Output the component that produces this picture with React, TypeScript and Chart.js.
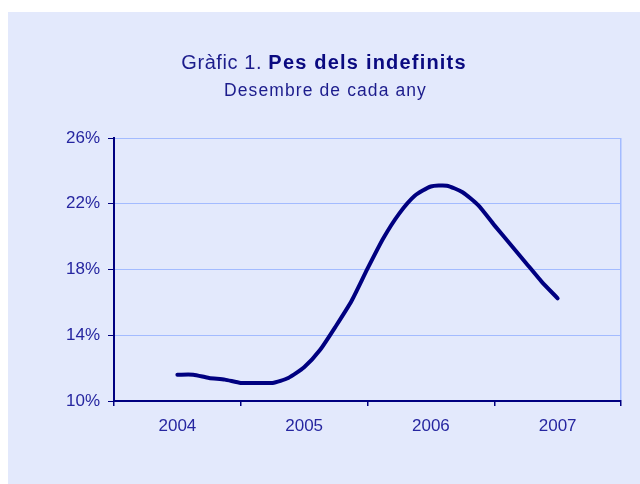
import React, { useEffect, useRef } from 'react';
import { Chart, registerables } from 'chart.js';

Chart.register(...registerables);

const years = ['2004', '2005', '2006', '2007'];
const yTicks = [10, 14, 18, 22, 26];
const pesIndefinits = [
  11.6, 11.6, 11.4, 11.3, 11.1, 11.1, 11.1, 11.4, 12.05, 13.1, 14.55, 16.1,
  18.05, 19.9, 21.4, 22.5, 23.05, 23.1, 22.7, 21.9, 20.7, 19.55, 18.4, 17.25, 16.25,
];
const pointsPerYear = 8;
const titleNormal = 'Gràfic 1. ';
const titleBold = 'Pes dels indefinits';
const subtitle = 'Desembre de cada any';

const FONT = '"Liberation Sans", Arial, Helvetica, sans-serif';
const DARK = '#000080';
const TEXT = '#2626a0';
const LIGHT = '#a3bbff';
const BG = '#e3e9fc';

const titlePlugin = {
  id: 'mixedTitle',
  afterDraw(chart: any) {
    const ctx = chart.ctx as CanvasRenderingContext2D & { letterSpacing?: string };
    ctx.save();
    ctx.textBaseline = 'alphabetic';
    ctx.textAlign = 'left';
    ctx.font = `20px ${FONT}`;
    ctx.letterSpacing = '0.6px';
    const w1 = ctx.measureText(titleNormal).width;
    ctx.font = `bold 20px ${FONT}`;
    ctx.letterSpacing = '1.2px';
    const w2 = ctx.measureText(titleBold).width;
    const cx = chart.width / 2;
    const x0 = cx - (w1 + w2) / 2;
    ctx.font = `20px ${FONT}`;
    ctx.letterSpacing = '0.6px';
    ctx.fillStyle = '#1c1c8c';
    ctx.fillText(titleNormal, x0, 57);
    ctx.font = `bold 20px ${FONT}`;
    ctx.letterSpacing = '1.2px';
    ctx.fillStyle = '#0a0a80';
    ctx.fillText(titleBold, x0 + w1, 57);
    ctx.font = `17.5px ${FONT}`;
    ctx.letterSpacing = '1.1px';
    ctx.fillStyle = '#1c1c8c';
    const w3 = ctx.measureText(subtitle).width;
    ctx.fillText(subtitle, cx + 1.5 - w3 / 2, 84);
    ctx.restore();
  },
};

export default function App() {
  const ref = useRef<HTMLCanvasElement>(null);

  useEffect(() => {
    if (!ref.current) return;
    const data = pesIndefinits.map((v, i) => ({ x: 0.5 + i / pointsPerYear, y: v }));
    const chart = new Chart(ref.current, {
      type: 'line',
      data: {
        datasets: [
          {
            data,
            borderColor: DARK,
            borderWidth: 4,
            pointRadius: 0,
            tension: 0.2,
            borderCapStyle: 'round',
            borderJoinStyle: 'round',
            fill: false,
          },
        ],
      },
      options: {
        animation: false,
        responsive: true,
        maintainAspectRatio: false,
        layout: { padding: { top: 126, right: 19, left: 0, bottom: 0 } },
        plugins: {
          legend: { display: false },
          title: { display: false },
          tooltip: { enabled: false },
        },
        scales: {
          x: {
            type: 'linear',
            min: 0,
            max: years.length,
            afterBuildTicks: (s: any) => {
              const t = [];
              for (let v = 0; v <= years.length; v += 0.5) t.push({ value: v });
              s.ticks = t;
            },
            afterFit: (s: any) => {
              s.height = 83;
            },
            grid: {
              drawOnChartArea: true,
              color: (c: any) => (c.tick && c.tick.value === years.length ? LIGHT : 'rgba(0,0,0,0)'),
              tickColor: (c: any) => (c.tick && Number.isInteger(c.tick.value) ? DARK : 'rgba(0,0,0,0)'),
              tickLength: 5,
              lineWidth: (c: any) => (c.tick && Number.isInteger(c.tick.value) ? 1.5 : 0),
            },
            border: { color: DARK, width: 2 },
            ticks: {
              autoSkip: false,
              maxRotation: 0,
              padding: 10,
              color: TEXT,
              font: { family: FONT, size: 17 },
              callback: (v: any) => (Number.isInteger(v) ? '' : years[Math.floor(v)]),
            },
          },
          y: {
            min: yTicks[0],
            max: yTicks[yTicks.length - 1],
            afterBuildTicks: (s: any) => {
              s.ticks = yTicks.map((v) => ({ value: v }));
            },
            afterFit: (s: any) => {
              s.width = 106;
            },
            grid: {
              color: LIGHT,
              tickColor: DARK,
              tickLength: 6,
              lineWidth: 1,
            },
            border: { color: DARK, width: 2 },
            ticks: {
              padding: 8,
              color: TEXT,
              font: { family: FONT, size: 17 },
              callback: (v: any) => `${v}%`,
            },
          },
        },
      },
      plugins: [titlePlugin],
    } as any);
    return () => chart.destroy();
  }, []);

  return (
    <div
      style={{
        position: 'absolute',
        left: 8,
        top: 12,
        width: 632,
        height: 472,
        background: BG,
      }}
    >
      <canvas ref={ref} />
    </div>
  );
}
